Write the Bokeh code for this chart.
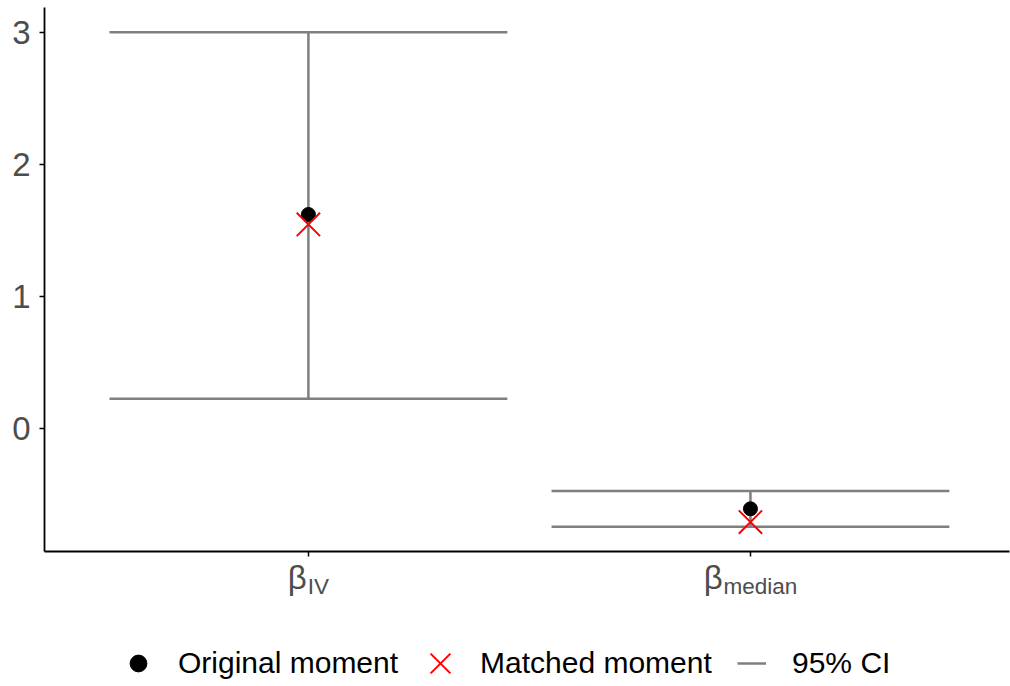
from bokeh.plotting import figure
from bokeh.models import Range1d, FixedTicker, Legend, LegendItem
from bokeh.layouts import column
from bokeh.core.properties import value
from bokeh.embed import file_html
from bokeh.resources import INLINE

# ---- data ----
categories = ["IV", "median"]
original_moment = [1.62, -0.608]
matched_moment = [1.545, -0.708]
ci_lower = [0.226, -0.744]
ci_upper = [3.0, -0.473]
y_ticks = [0, 1, 2, 3]
legend_labels = ["Original moment", "Matched moment", "95% CI"]

xpos = [i + 1 for i in range(len(categories))]
half = 0.45
ylo_d = min(ci_lower + matched_moment + original_moment)
yhi_d = max(ci_upper + matched_moment + original_moment)
pad = 0.05 * (yhi_d - ylo_d)
ylo, yhi = ylo_d - pad, yhi_d + pad

FONT = "Liberation Sans"
GRAY = "#7F7F7F"
TXT = "#4D4D4D"
W = 1010
LEFT, RIGHT = 44, 1
NAN = float("nan")
TOTAL_H = 684

x_range = Range1d(0.403, 2.586)

H1 = 557
p = figure(width=W, height=H1, output_backend="svg", toolbar_location=None,
           x_range=x_range, y_range=Range1d(ylo, yhi),
           min_border_left=LEFT, min_border_right=RIGHT, min_border_top=7, min_border_bottom=6)
p.grid.visible = False
p.outline_line_color = None

# error bars
p.segment(x0=xpos, y0=ci_lower, x1=xpos, y1=ci_upper, line_color=GRAY, line_width=2.5)
p.segment(x0=[x - half for x in xpos], y0=ci_upper, x1=[x + half for x in xpos], y1=ci_upper,
          line_color=GRAY, line_width=2.5)
p.segment(x0=[x - half for x in xpos], y0=ci_lower, x1=[x + half for x in xpos], y1=ci_lower,
          line_color=GRAY, line_width=2.5)
p.scatter(xpos, original_moment, marker="circle", size=14, fill_color="black", line_color="black")
p.scatter(xpos, matched_moment, marker="x", size=33, line_color="#FF0000", line_width=2)

# axes
for ax in (p.xaxis[0], p.yaxis[0]):
    ax.axis_line_color = "black"
    ax.axis_line_width = 1.8
    ax.major_tick_line_color = "black"
    ax.major_tick_line_width = 1.5
    ax.major_tick_out = 5
    ax.major_tick_in = 0
    ax.minor_tick_line_color = None
p.yaxis.ticker = FixedTicker(ticks=y_ticks)
p.yaxis.major_label_text_font = FONT
p.yaxis.major_label_text_font_size = "33px"
p.yaxis.major_label_text_color = TXT
p.yaxis.major_label_standoff = 9
p.xaxis.ticker = FixedTicker(ticks=xpos)
p.xaxis.major_label_overrides = {x: "" for x in xpos}
p.xaxis.major_label_text_font_size = "1px"
p.xaxis.major_label_standoff = 0

# ---- lower strip: category labels with subscripts + legend ----
H2 = TOTAL_H - H1
p2 = figure(width=W, height=H2, output_backend="svg", toolbar_location=None,
            x_range=x_range, y_range=Range1d(0, H2),
            x_axis_location=None, y_axis_location=None,
            min_border_left=LEFT, min_border_right=RIGHT, min_border_top=0, min_border_bottom=0)
p2.grid.visible = False
p2.outline_line_color = None

widths = {"β": 0.60, "I": 0.278, "V": 0.667, "m": 0.833, "e": 0.556, "d": 0.556,
          "i": 0.222, "a": 0.556, "n": 0.556}
BETA_SIZE, SUB_SIZE = 33, 22.5
BETA_Y, SUB_Y = TOTAL_H - 577, TOTAL_H - 586   # heights above the page bottom
wb = widths["β"] * BETA_SIZE
ws = [sum(widths.get(c, 0.556) for c in cat) * SUB_SIZE for cat in categories]
starts = [-(wb + w) / 2 for w in ws]
p2.text(x=xpos, y=[BETA_Y] * len(xpos), text=["β"] * len(xpos), x_offset=starts,
        text_font=value(FONT), text_font_size=value(f"{BETA_SIZE}px"), text_color=TXT,
        text_align="left", text_baseline="alphabetic")
p2.text(x=xpos, y=[SUB_Y] * len(xpos), text=categories, x_offset=[s + wb for s in starts],
        text_font=value(FONT), text_font_size=value(f"{SUB_SIZE}px"), text_color=TXT,
        text_align="left", text_baseline="alphabetic")

# legend key renderers (a single NaN point each: nothing drawn, only the legend keys)
k_orig = p2.scatter([NAN], [NAN], marker="circle", size=14, fill_color="black", line_color="black")
k_match = p2.scatter([NAN], [NAN], marker="x", size=33, line_color="#FF0000", line_width=2)
k_ci = p2.segment([NAN], [NAN], [NAN], [NAN], line_color=GRAY, line_width=2.5)

leg_cy = 21
specs = [(k_orig, legend_labels[0], 42, 42, 138, 19),
         (k_match, legend_labels[1], 70, 70, 440, 5),
         (k_ci, legend_labels[2], 29, 42, 751.5, 26)]
for rend, lab, gw, gh, cx, standoff in specs:
    lg = Legend(items=[LegendItem(label=lab, renderers=[rend])],
                location=(cx - gw / 2 - LEFT, leg_cy - gh / 2),
                glyph_width=gw, glyph_height=gh, label_standoff=standoff,
                padding=0, margin=0, border_line_color=None, background_fill_alpha=0,
                label_text_font=FONT, label_text_font_size="30px", label_text_color="black")
    p2.add_layout(lg)

layout = column(p, p2, spacing=0)
open("out.html", "w").write(file_html(layout, INLINE))
